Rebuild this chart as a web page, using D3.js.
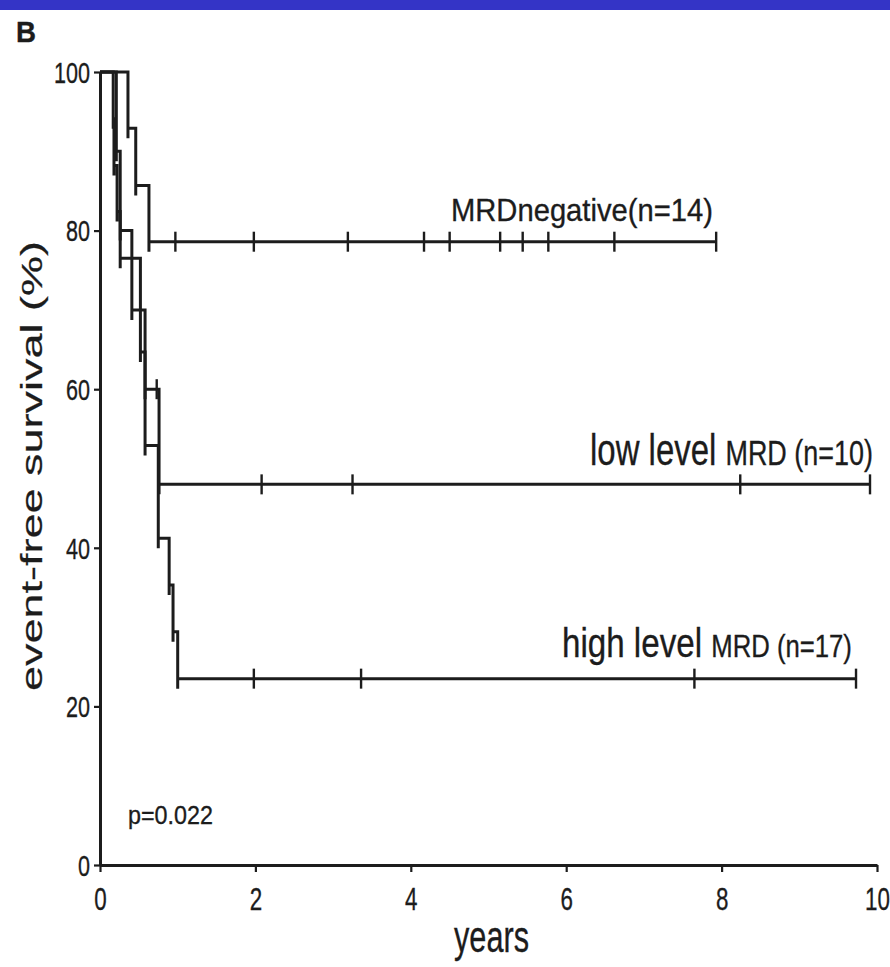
<!DOCTYPE html>
<html>
<head>
<meta charset="utf-8">
<script src="https://cdn.jsdelivr.net/npm/d3@7"></script>
<style>
  html, body { margin: 0; padding: 0; background: #fff; }
  svg { display: block; }
  text { font-family: "Liberation Sans", Arial, Helvetica, sans-serif; fill: #1c1c1c; stroke: #1c1c1c; stroke-width: 0.35px; }
</style>
</head>
<body>
<svg id="chart" width="890" height="967"></svg>
<script>
// Axis ticks
const xTicks = [0, 2, 4, 6, 8, 10];
const yTicks = [0, 20, 40, 60, 80, 100];

// Kaplan-Meier steps: [years, event-free survival %]
const negSteps  = [[0, 100], [0.36, 92.9], [0.46, 85.7], [0.63, 78.6]];
const negCensor = [0.97, 1.98, 3.19, 4.17, 4.50, 5.15, 5.44, 5.77, 6.62, 7.93];

const lowSteps  = [[0, 100], [0.21, 90], [0.26, 80], [0.41, 70], [0.58, 60], [0.76, 48]];
const lowCensor = [0.73, 2.08, 3.25, 8.24, 9.91];

const highSteps  = [[0, 100], [0.17, 94.1], [0.18, 88.2], [0.22, 82.4], [0.26, 76.5],
                    [0.52, 64.7], [0.58, 52.9], [0.75, 41.2], [0.89, 35.3], [0.94, 29.4], [1.00, 23.5]];
const highCensor = [1.98, 3.36, 7.65, 9.73];

const curves = [
  { name: "MRD negative", steps: negSteps, censor: negCensor },
  { name: "low level MRD", steps: lowSteps, censor: lowCensor },
  { name: "high level MRD", steps: highSteps, censor: highCensor }
];

const svg = d3.select("#chart");
const ink = "#1c1c1c";

// blue banner strip
svg.append("rect").attr("x", 0).attr("y", 0).attr("width", 890).attr("height", 10).attr("fill", "#3434c6");

const x = d3.scaleLinear().domain([0, 10]).range([100, 877]);
const y = d3.scaleLinear().domain([0, 100]).range([865, 72]);

// squeeze text horizontally to a target width, anchored at (tx, ty)
function placeText(sel, tx, ty, width) {
  const n = sel.node().getComputedTextLength();
  sel.attr("transform", `translate(${tx},${ty}) scale(${width / n},1)`);
  return sel;
}

// axes
const yAxis = d3.axisLeft(y).tickValues(yTicks).tickSize(6).tickSizeOuter(0).tickFormat(d3.format("d"));
const gy = svg.append("g").attr("transform", `translate(${x(0)},0)`).call(yAxis);
const xAxis = d3.axisBottom(x).tickValues(xTicks).tickSize(7).tickSizeOuter(0).tickFormat(d3.format("d"));
const gx = svg.append("g").attr("transform", `translate(0,${y(0)})`).call(xAxis);

[gx, gy].forEach(g => {
  g.select(".domain").attr("stroke", ink).attr("stroke-width", 3);
  g.selectAll(".tick line").attr("stroke", ink).attr("stroke-width", 2.2);
});
gy.selectAll(".tick text")
  .attr("x", 0).attr("dy", null).attr("y", 0)
  .attr("font-size", 30).attr("text-anchor", "end")
  .attr("dominant-baseline", "central")
  .attr("transform", "translate(-10,0) scale(0.72,1)")
  .style("fill", ink);
gx.selectAll(".tick text")
  .attr("x", 0).attr("dy", null).attr("y", 45)
  .attr("font-size", 32).attr("text-anchor", "middle")
  .attr("transform", "scale(0.7,1)")
  .style("fill", ink);

// survival value at time t for a step list
function survAt(steps, t) {
  let v = steps[0][1];
  for (const s of steps) if (s[0] <= t) v = s[1];
  return v;
}

const overshoot = 10;
const tickHalf = 10;
const gCurves = svg.append("g");

curves.forEach(c => {
  const end = d3.max(c.censor);
  const p = d3.path();
  p.moveTo(x(c.steps[0][0]), y(c.steps[0][1]));
  for (let i = 1; i < c.steps.length; i++) {
    const [t, v] = c.steps[i];
    const prev = c.steps[i - 1][1];
    p.lineTo(x(t), y(prev));
    p.lineTo(x(t), y(v) + overshoot);
    p.moveTo(x(t), y(v));
  }
  p.lineTo(x(end), y(c.steps[c.steps.length - 1][1]));
  gCurves.append("path")
    .attr("d", p.toString())
    .attr("fill", "none")
    .attr("stroke", ink)
    .attr("stroke-width", 3);

  gCurves.selectAll(null)
    .data(c.censor)
    .join("line")
    .attr("x1", d => x(d)).attr("x2", d => x(d))
    .attr("y1", d => y(survAt(c.steps, d)) - tickHalf)
    .attr("y2", d => y(survAt(c.steps, d)) + tickHalf)
    .attr("stroke", ink)
    .attr("stroke-width", 2.4);
});

// panel letter
placeText(svg.append("text").attr("font-size", 30).attr("font-weight", "bold").text("B"), 16, 42, 20);

// curve labels
placeText(svg.append("text").attr("font-size", 32).text("MRDnegative(n=14)"), 451, 221, 262);

const lowLbl = svg.append("text");
lowLbl.append("tspan").attr("font-size", 44).text("low level ");
lowLbl.append("tspan").attr("font-size", 36).text("MRD (n=10)");
placeText(lowLbl, 590, 465, 283);

const highLbl = svg.append("text");
highLbl.append("tspan").attr("font-size", 40).text("high level ");
highLbl.append("tspan").attr("font-size", 31).text("MRD (n=17)");
placeText(highLbl, 562, 657, 290);

// log-rank p value
placeText(svg.append("text").attr("font-size", 26).text("p=0.022"), 128, 824, 85);

// axis titles
placeText(svg.append("text").attr("font-size", 45).text("years"), 454, 952, 75);

svg.append("text")
  .attr("font-size", 45)
  .attr("text-anchor", "middle")
  .attr("transform", "translate(42,466) scale(0.67,1) rotate(-90)")
  .text("event-free survival (%)");
</script>
</body>
</html>
